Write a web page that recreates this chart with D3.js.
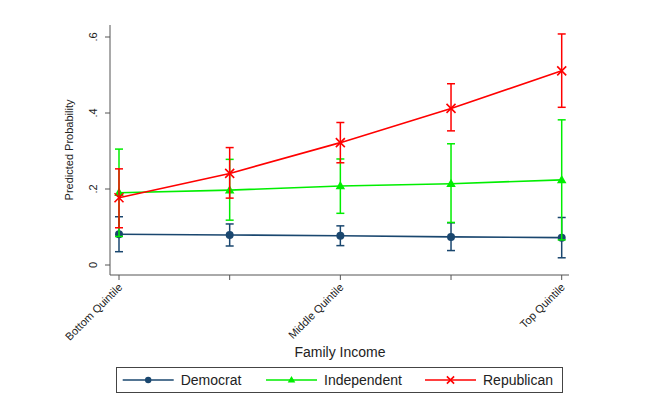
<!DOCTYPE html>
<html><head><meta charset="utf-8">
<script src="https://cdn.jsdelivr.net/npm/d3@7"></script>
<style>body{margin:0;background:#fff;}svg{display:block;font-family:"Liberation Sans",Arial,sans-serif;}</style>
</head><body>
<svg id="c" width="664" height="413"></svg>
<script>
const categories = ["Bottom Quintile", "Second Quintile", "Middle Quintile", "Fourth Quintile", "Top Quintile"];
const xTickLabels = ["Bottom Quintile", "", "Middle Quintile", "", "Top Quintile"];
const yTicks = [0, 0.2, 0.4, 0.6];
const yTickLabels = ["0", ".2", ".4", ".6"];

const democrat = [0.081, 0.079, 0.077, 0.074, 0.072];
const democratLo = [0.035, 0.050, 0.051, 0.038, 0.019];
const democratHi = [0.127, 0.108, 0.103, 0.111, 0.125];

const independent = [0.190, 0.197, 0.208, 0.214, 0.224];
const independentLo = [0.075, 0.118, 0.136, 0.112, 0.066];
const independentHi = [0.305, 0.278, 0.279, 0.319, 0.382];

const republican = [0.177, 0.241, 0.322, 0.412, 0.511];
const republicanLo = [0.098, 0.176, 0.269, 0.353, 0.415];
const republicanHi = [0.253, 0.309, 0.375, 0.477, 0.608];

const seriesNames = ["Democrat", "Independent", "Republican"];
const seriesColors = ["#1a476f", "#00ee00", "#ff0000"];

const series = [
  {name: seriesNames[0], color: seriesColors[0], v: democrat, lo: democratLo, hi: democratHi, marker: "circle"},
  {name: seriesNames[1], color: seriesColors[1], v: independent, lo: independentLo, hi: independentHi, marker: "triangle"},
  {name: seriesNames[2], color: seriesColors[2], v: republican, lo: republicanLo, hi: republicanHi, marker: "x"}
];

const svg = d3.select("#c");
const x = d3.scalePoint().domain(categories).range([119, 561.7]);
const y = d3.scaleLinear().domain([0, 0.6]).range([265, 37]);
const axisColor = "#555";

// Y axis
const yAx = svg.append("g").attr("transform", "translate(110,0)");
yAx.append("line").attr("x1",0).attr("x2",0).attr("y1",25).attr("y2",275).attr("stroke",axisColor).attr("stroke-width",1);
yTicks.forEach((t,i)=>{
  yAx.append("line").attr("x1",-5).attr("x2",0).attr("y1",y(t)).attr("y2",y(t)).attr("stroke",axisColor);
  yAx.append("text").attr("transform",`translate(-13,${y(t)}) rotate(-90)`).attr("text-anchor","middle")
    .attr("font-size",11).attr("fill","#222").text(yTickLabels[i]);
});
svg.append("text").attr("transform","translate(73,150) rotate(-90)").attr("text-anchor","middle")
  .attr("font-size",11).attr("fill","#222").text("Predicted Probability");

// X axis
const xAx = svg.append("g").attr("transform","translate(0,275)");
xAx.append("line").attr("x1",110).attr("x2",569).attr("y1",0).attr("y2",0).attr("stroke",axisColor);
categories.forEach((c,i)=>{
  xAx.append("line").attr("x1",x(c)).attr("x2",x(c)).attr("y1",0).attr("y2",5).attr("stroke",axisColor);
  if (xTickLabels[i]) {
    xAx.append("text").attr("transform",`translate(${x(c)+4},${13}) rotate(-45)`).attr("text-anchor","end")
      .attr("font-size",11).attr("fill","#222").text(xTickLabels[i]);
  }
});
svg.append("text").attr("x",340).attr("y",357).attr("text-anchor","middle").attr("font-size",14).attr("fill","#222").text("Family Income");

function drawMarker(g, type, cx, cy, color, s) {
  if (type === "circle") {
    g.append("circle").attr("cx",cx).attr("cy",cy).attr("r",4*s).attr("fill",color);
  } else if (type === "triangle") {
    const r = 5*s;
    g.append("path").attr("d",`M${cx},${cy-r} L${cx+r*0.95},${cy+r*0.65} L${cx-r*0.95},${cy+r*0.65} Z`).attr("fill",color);
  } else {
    const r = 4.5*s;
    g.append("path").attr("d",`M${cx-r},${cy-r} L${cx+r},${cy+r} M${cx-r},${cy+r} L${cx+r},${cy-r}`)
      .attr("stroke",color).attr("stroke-width",1.6).attr("fill","none");
  }
}

const plot = svg.append("g");
series.forEach(s=>{
  const g = plot.append("g");
  // error bars
  categories.forEach((c,i)=>{
    const cx = x(c);
    g.append("line").attr("x1",cx).attr("x2",cx).attr("y1",y(s.lo[i])).attr("y2",y(s.hi[i])).attr("stroke",s.color).attr("stroke-width",1.5);
    [s.lo[i], s.hi[i]].forEach(v=>{
      g.append("line").attr("x1",cx-4).attr("x2",cx+4).attr("y1",y(v)).attr("y2",y(v)).attr("stroke",s.color).attr("stroke-width",1.5);
    });
  });
  const line = d3.line().x((d,i)=>x(categories[i])).y(d=>y(d));
  g.append("path").attr("d",line(s.v)).attr("fill","none").attr("stroke",s.color).attr("stroke-width",1.6);
  categories.forEach((c,i)=>drawMarker(g, s.marker, x(c), y(s.v[i]), s.color, 1));
});

// Legend
const leg = svg.append("g");
leg.append("rect").attr("x",116.5).attr("y",367.5).attr("width",446).attr("height",25).attr("fill","#fff").attr("stroke","#444").attr("stroke-width",1);
const legX = [122.7, 266, 425];
series.forEach((s,i)=>{
  const x0 = legX[i];
  leg.append("line").attr("x1",x0).attr("x2",x0+51).attr("y1",380).attr("y2",380).attr("stroke",s.color).attr("stroke-width",1.5);
  drawMarker(leg, s.marker, x0+25.5, 380, s.color, 0.8);
  leg.append("text").attr("x",x0+58).attr("y",385).attr("font-size",14).attr("fill","#222").text(s.name);
});
</script>
</body></html>
